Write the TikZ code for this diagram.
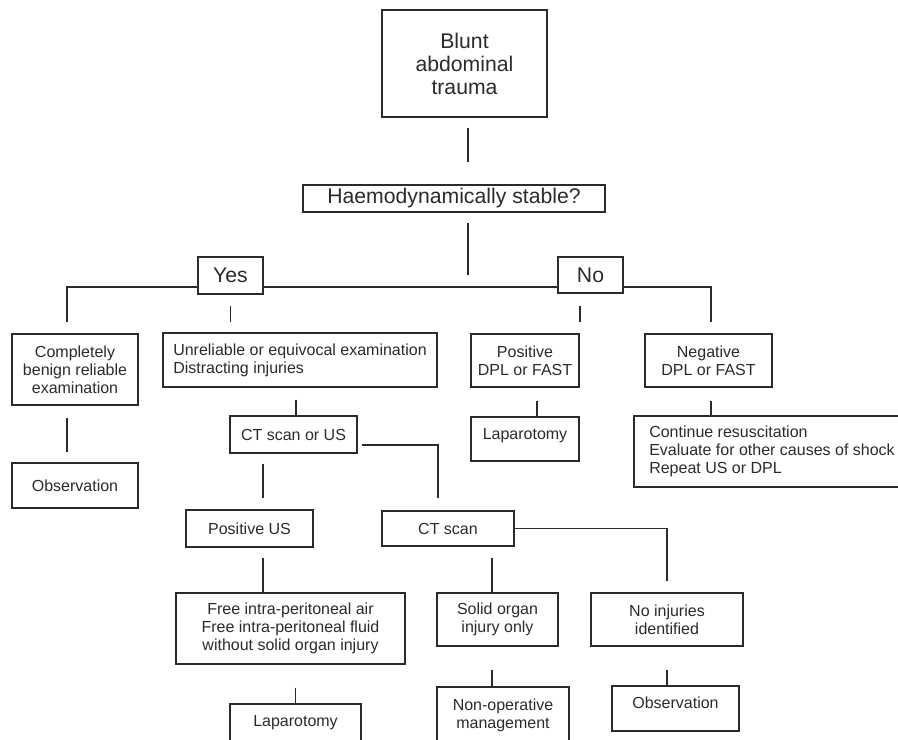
\documentclass[tikz,border=0pt]{standalone}
\usepackage{fontspec}
\setmainfont{Liberation Sans}
\usetikzlibrary{calc}
\definecolor{ink}{HTML}{2B2B2B}

\begin{document}
\begin{tikzpicture}[x=0.75pt,y=-0.75pt,
  box/.style={draw=ink, line width=1.1pt, text=ink, inner sep=0pt, align=center,
              font=\fontsize{12}{13.4}\selectfont},
  bigbox/.style={box, font=\fontsize{15.9}{17.3}\selectfont},
  sz/.style 2 args={minimum width=#1*0.75pt, minimum height=#2*0.75pt},
  raised/.style={text depth=8pt},
  link/.style={draw=ink, line width=1.1pt},
]
% page
\fill[white] (0,0) rectangle (898,739);
\useasboundingbox (0,0) rectangle (898,739);

% boxes
\node[bigbox, sz={165}{107}] (blunt) at (464.5,63.5) {Blunt\\abdominal\\trauma};
\node[bigbox, sz={302}{27}] (haemo) at (454,198.5) {Haemodynamically stable?};
\node[bigbox, sz={65}{37}] (yes) at (230.5,275.5) {Yes};
\node[bigbox, sz={65}{36}] (no) at (590.5,275) {No};

\node[box, sz={126}{71}] (benign) at (75,369.5) {Completely\\benign reliable\\examination};
\node[box, sz={126}{45}] (obs1) at (75,485.5) {Observation};
\node[box, sz={274}{54}, align=left] (unrel) at (300,360) {Unreliable or equivocal examination\\Distracting injuries};
\node[box, sz={127}{37}] (ctus) at (293.5,434.5) {CT scan or US};
\node[box, sz={108}{53}] (pos) at (525,360.5) {Positive\\DPL or FAST};
\node[box, raised, sz={108}{44}] (lap1) at (525,439) {Laparotomy};
\node[box, sz={127}{53}] (neg) at (708.5,360.5) {Negative\\DPL or FAST};
\node[box, sz={276}{71}, align=left] (cont) at (772,451.5) {Continue resuscitation\\Evaluate for other causes of shock\\Repeat US or DPL};

\node[box, sz={127}{37}] (posus) at (249.5,528.5) {Positive US};
\node[box, sz={132}{35}] (ctscan) at (448,528.5) {CT scan};
\node[box, sz={229}{71}] (free) at (290.5,628.5) {Free intra-peritoneal air\\Free intra-peritoneal fluid\\without solid organ injury};
\node[box, sz={121}{53}] (solid) at (497.5,619.5) {Solid organ\\injury only};
\node[box, sz={152}{53}] (noinj) at (667,619.5) {No injuries\\identified};
\node[box, raised, sz={131}{44}] (lap2) at (295.5,726) {Laparotomy};
\node[box, sz={132}{56}] (nonop) at (503,715) {Non-operative\\management};
\node[box, raised, sz={127}{45}] (obs2) at (675.5,708.5) {Observation};

% junction of the main branch
\coordinate (spine) at (468,287);

% connectors
\draw[link, shorten <=7.5pt, shorten >=16.5pt] (spine |- blunt.south) -- (spine |- haemo.north);
\draw[link, shorten <=7.5pt, shorten >=9pt] (spine |- haemo.south) -- (spine);
\draw[link, shorten >=8.25pt] (yes.west |- spine) -| ([xshift=-6pt]benign.north);
\draw[link] (yes.east |- spine) -- (no.west |- spine);
\draw[link, shorten >=8.25pt] (no.east |- spine) -| ([xshift=1.9pt]neg.north);
\draw[link, shorten <=8.25pt, shorten >=7.5pt] (yes.south) -- (yes.south |- unrel.north);
\draw[link, shorten <=9pt, shorten >=8.25pt] ([xshift=-7.9pt]no.south) -- ([xshift=-7.9pt]no.south |- pos.north);

\draw[link, shorten <=9pt, shorten >=7.5pt] ([xshift=-6pt]benign.south) -- ([xshift=-6pt]benign.south |- obs1.north);
\draw[link, shorten <=9pt] ([xshift=2pt]ctus.north |- unrel.south) -- ([xshift=2pt]ctus.north);
\draw[link, shorten <=9.75pt] ([xshift=9pt]pos.south) -- ([xshift=9pt]lap1.north);
\draw[link, shorten <=9.75pt] ([xshift=1.9pt]neg.south) -- ([xshift=1.9pt]neg.south |- cont.north);

\draw[link, shorten <=7.5pt, shorten >=8.25pt] ([xshift=10.1pt]posus.north |- ctus.south) -- ([xshift=10.1pt]posus.north);
\draw[link, shorten <=3pt, shorten >=9pt] ([yshift=-7.9pt]ctus.east) -| ([xshift=-7.5pt]ctscan.north);
\draw[link, shorten <=7.5pt] ([xshift=10.1pt]posus.south) -- ([xshift=10.1pt]posus.south |- free.north);
\draw[link, shorten <=17.25pt] (lap2.north |- free.south) -- (lap2.north);
\draw[link, shorten <=8.25pt] ([xshift=-4.1pt]solid.north |- ctscan.south) -- ([xshift=-4.1pt]solid.north);
\draw[link, shorten >=8.25pt] (ctscan.east) -| (noinj.north);
\draw[link, shorten <=17.25pt] ([xshift=-4.1pt]solid.south) -- ([xshift=-4.1pt]solid.south |- nonop.north);
\draw[link, shorten <=17.25pt] (noinj.south) -- (noinj.south |- obs2.north);
\end{tikzpicture}
\end{document}
